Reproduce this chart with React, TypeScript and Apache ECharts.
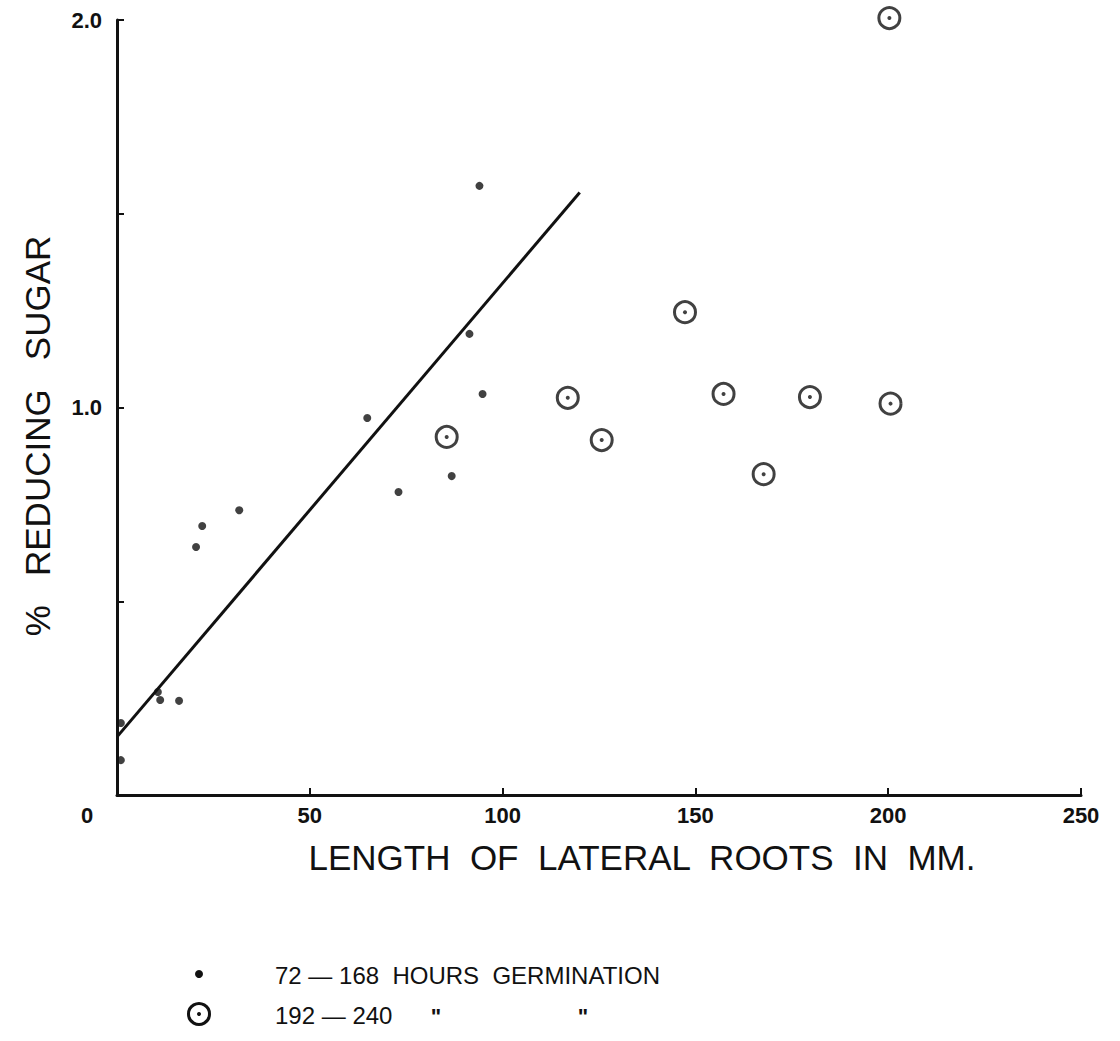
import React, { useEffect, useRef } from "react";
import * as echarts from "echarts";

// Axis ticks
const xTicks = [0, 50, 100, 150, 200, 250];
const yTickLabels = ["1.0", "2.0"];

// 72–168 hours germination: [length of lateral roots (mm), % reducing sugar]
const earlyGermination: [number, number][] = [
  [1, 0.09],
  [1, 0.186],
  [10.6, 0.266],
  [11.2, 0.245],
  [16.1, 0.243],
  [20.5, 0.64],
  [22.1, 0.694],
  [31.7, 0.735],
  [64.9, 0.973],
  [73.0, 0.782],
  [86.8, 0.823],
  [91.4, 1.19],
  [94.0, 1.572],
  [94.8, 1.035],
];

// 192–240 hours germination
const lateGermination: [number, number][] = [
  [85.5, 0.924],
  [116.9, 1.025],
  [125.7, 0.916],
  [147.3, 1.246],
  [157.3, 1.035],
  [167.7, 0.828],
  [179.7, 1.027],
  [200.6, 1.01],
  [200.3, 2.005],
];

// Fitted line end points
const fitLine: [number, number][] = [
  [0, 0.15],
  [120, 1.555],
];

const INK = "#111111";
const FONT = "'Liberation Sans', Arial, sans-serif";

export default function App() {
  const ref = useRef<HTMLDivElement>(null);

  useEffect(() => {
    if (!ref.current) return;
    const chart = echarts.init(ref.current, undefined, { renderer: "svg" });
    chart.setOption({
      animation: false,
      backgroundColor: "#ffffff",
      grid: { left: 117, right: 39, top: 20, bottom: 246 },
      xAxis: {
        type: "value",
        min: xTicks[0],
        max: xTicks[xTicks.length - 1],
        interval: 50,
        splitLine: { show: false },
        axisLine: { lineStyle: { color: INK, width: 3 } },
        axisTick: { inside: true, length: 7, lineStyle: { color: INK, width: 2 } },
        axisLabel: {
          color: INK,
          fontFamily: FONT,
          fontSize: 22,
          fontWeight: "bold",
          margin: 9,
          formatter: (v: number) => (v === 0 ? "" : String(v)),
        },
      },
      yAxis: {
        type: "value",
        min: 0,
        max: 2,
        interval: 0.5,
        offset: 3,
        splitLine: { show: false },
        axisLine: { lineStyle: { color: INK, width: 3 } },
        axisTick: { inside: true, length: 7, lineStyle: { color: INK, width: 2 } },
        axisLabel: {
          color: INK,
          fontFamily: FONT,
          fontSize: 22,
          fontWeight: "bold",
          margin: 12,
          formatter: (v: number) => {
            const s = v.toFixed(1);
            return yTickLabels.includes(s) ? s : "";
          },
        },
      },
      series: [
        {
          type: "line",
          data: fitLine,
          symbol: "none",
          lineStyle: { color: INK, width: 3 },
          z: 2,
        },
        {
          type: "scatter",
          data: earlyGermination,
          symbol: "circle",
          symbolSize: 8,
          itemStyle: { color: INK },
          z: 3,
        },
        {
          type: "scatter",
          data: lateGermination,
          symbol: "circle",
          symbolSize: 21,
          clip: false,
          itemStyle: { color: "rgba(255,255,255,0)", borderColor: INK, borderWidth: 3 },
          z: 3,
        },
        {
          type: "scatter",
          data: lateGermination,
          symbol: "circle",
          symbolSize: 4,
          clip: false,
          itemStyle: { color: INK },
          z: 4,
        },
      ],
      graphic: [
        {
          type: "text",
          x: 87,
          y: 815,
          style: { text: "0", fill: INK, font: `bold 22px ${FONT}`, align: "center", verticalAlign: "middle" },
        },
        {
          type: "text",
          x: 642,
          y: 857,
          style: {
            text: "LENGTH  OF  LATERAL  ROOTS  IN  MM.",
            fill: INK,
            font: `35px ${FONT}`,
            align: "center",
            verticalAlign: "middle",
          },
        },
        {
          type: "text",
          x: 37,
          y: 436,
          rotation: Math.PI / 2,
          style: {
            text: "%   REDUCING   SUGAR",
            fill: INK,
            font: `35px ${FONT}`,
            align: "center",
            verticalAlign: "middle",
          },
        },
        // legend
        {
          type: "circle",
          shape: { cx: 199, cy: 974, r: 4 },
          style: { fill: INK },
        },
        {
          type: "text",
          x: 275,
          y: 975,
          style: {
            text: "72 — 168  HOURS  GERMINATION",
            fill: INK,
            font: `24px ${FONT}`,
            verticalAlign: "middle",
          },
        },
        {
          type: "circle",
          shape: { cx: 199, cy: 1014, r: 10.5 },
          style: { fill: "none", stroke: INK, lineWidth: 3 },
        },
        {
          type: "circle",
          shape: { cx: 199, cy: 1014, r: 2 },
          style: { fill: INK },
        },
        {
          type: "text",
          x: 275,
          y: 1015,
          style: {
            text: "192 — 240",
            fill: INK,
            font: `24px ${FONT}`,
            verticalAlign: "middle",
          },
        },
        {
          type: "text",
          x: 436,
          y: 1016,
          style: { text: "\"", fill: INK, font: `bold 22px ${FONT}`, align: "center", verticalAlign: "middle" },
        },
        {
          type: "text",
          x: 583,
          y: 1016,
          style: { text: "\"", fill: INK, font: `bold 22px ${FONT}`, align: "center", verticalAlign: "middle" },
        },
      ],
    });
    return () => chart.dispose();
  }, []);

  return (
    <div
      ref={ref}
      style={{ position: "absolute", left: 0, top: 0, width: 1120, height: 1041 }}
    />
  );
}
